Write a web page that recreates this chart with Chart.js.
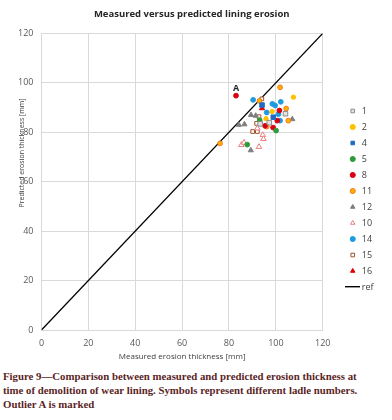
<!DOCTYPE html>
<html>
<head>
<meta charset="utf-8">
<script src="https://cdn.jsdelivr.net/npm/chart.js@4"></script>
<style>
  body { margin: 0; background: #fff; }
  #wrap { width: 392px; height: 362px; position: relative; }
  #caption {
    margin: 7px 0 0 3px;
    font-family: "Liberation Serif", serif;
    font-weight: bold;
    font-size: 10.8px;
    line-height: 14px;
    color: #5b1f1f;
    white-space: nowrap;
  }
</style>
</head>
<body>
<div id="wrap"><canvas id="diagram"></canvas></div>
<div id="caption">Figure 9—Comparison between measured and predicted erosion thickness at<br>time of demolition of wear lining. Symbols represent different ladle numbers.<br>Outlier A is marked</div>
<script>
// ladle data, [measured, predicted] in mm
const ladle1 = [[104.1, 87.5], [97.2, 83.9], [93.3, 83.4]];
const ladle2 = [[107.5, 94.2], [98.4, 88.4], [95.8, 85.5]];
const ladle4 = [[94.1, 91.0], [98.9, 86.1]];
const ladle5 = [[93.1, 84.9], [100.1, 80.7], [87.8, 75.0]];
const ladle8 = [[83.0, 94.8], [101.5, 88.8], [100.6, 84.7], [95.4, 82.6], [98.8, 81.9]];
const ladle11 = [[76.2, 75.5], [101.8, 98.2], [93.0, 92.7], [104.4, 89.6], [105.3, 84.7], [96.1, 82.3]];
const ladle12 = [[89.4, 87.0], [91.4, 86.7], [84.2, 83.0], [86.6, 83.2], [107.0, 85.3], [89.3, 72.7]];
const ladle10 = [[92.1, 81.6], [94.4, 78.9], [94.7, 77.3], [85.3, 74.9], [86.4, 75.8], [92.8, 74.1]];
const ladle14 = [[90.3, 93.1], [102.1, 92.3], [99.7, 90.8], [98.5, 91.5], [96.1, 88.0], [101.1, 87.3], [101.8, 84.7]];
const ladle15 = [[94.0, 93.5], [92.8, 86.3], [91.8, 83.6], [90.1, 80.3], [92.1, 80.3]];
const ladle16 = [[94.1, 89.7]];
const refLine = [[0, 0], [120, 120]];

const axisTicks = [0, 20, 40, 60, 80, 100, 120];

const pts = (arr) => arr.map((p) => ({ x: p[0], y: p[1] }));

function serie(label, data, style, radius, fill, border) {
  return {
    label: label,
    data: pts(data),
    pointStyle: style,
    pointRadius: radius,
    pointHoverRadius: radius,
    backgroundColor: fill,
    borderColor: border,
    borderWidth: 1,
  };
}

// short line picture for the "ref" legend entry
const refIcon = document.createElement("canvas");
refIcon.width = 15;
refIcon.height = 2;
const ric = refIcon.getContext("2d");
ric.fillStyle = "#000000";
ric.fillRect(0, 0, 15, 1.4);

const datasets = [
  serie("1", ladle1, "rect", 3.2, "#e4e4e4", "#8a8a8a"),
  serie("2", ladle2, "circle", 2.2, "#ffc000", "#ffc000"),
  serie("4", ladle4, "rect", 3.2, "#1f6bc4", "#1f6bc4"),
  serie("5", ladle5, "circle", 2.4, "#2f9a3a", "#2f9a3a"),
  serie("8", ladle8, "circle", 2.4, "#d90012", "#d90012"),
  serie("11", ladle11, "circle", 2.4, "#ffb000", "#f07a1a"),
  serie("12", ladle12, "triangle", 3.0, "#7f7f7f", "#7f7f7f"),
  serie("10", ladle10, "triangle", 3.2, "#ffffff", "#ec7f82"),
  serie("14", ladle14, "circle", 2.4, "#1e9ae0", "#1e9ae0"),
  serie("15", ladle15, "rect", 2.6, "#ffffff", "#a0522d"),
  serie("16", ladle16, "triangle", 3.0, "#e00000", "#e00000"),
  {
    type: "line",
    label: "ref",
    data: pts(refLine),
    borderColor: "#000000",
    backgroundColor: "#000000",
    borderWidth: 1.3,
    pointRadius: 0,
    pointStyle: refIcon,
    fill: false,
  },
];

// y title sits a bit above the middle, so it is drawn here
const yTitle = {
  id: "yTitle",
  afterDraw(chart) {
    const ctx = chart.ctx;
    ctx.save();
    ctx.translate(22, 153);
    ctx.rotate(-Math.PI / 2);
    ctx.font = "7px 'Open Sans'";
    ctx.fillStyle = "#404040";
    ctx.textAlign = "center";
    ctx.textBaseline = "middle";
    ctx.fillText("Predicted erosion thickness [mm]", 0, 0);
    ctx.restore();
  },
};

// outlier label A next to the first ladle 8 point
const outlier = {
  id: "outlier",
  afterDatasetsDraw(chart) {
    const sx = chart.scales.x;
    const sy = chart.scales.y;
    const px = sx.getPixelForValue(ladle8[0][0]);
    const py = sy.getPixelForValue(ladle8[0][1]);
    const ctx = chart.ctx;
    ctx.save();
    ctx.font = "bold 9px 'Open Sans'";
    ctx.fillStyle = "#262626";
    ctx.textAlign = "center";
    ctx.textBaseline = "middle";
    ctx.fillText("A", px, py - 7);
    ctx.restore();
  },
};

Chart.defaults.font.family = "'Open Sans'";

const config = {
  type: "scatter",
  data: { datasets: datasets },
  options: {
    responsive: true,
    maintainAspectRatio: false,
    animation: false,
    layout: { padding: { left: 0, right: 8.5, top: 0, bottom: 0 } },
    plugins: {
      title: {
        display: true,
        text: "Measured versus predicted lining erosion",
        color: "#262626",
        font: { size: 9.5, weight: "bold" },
        padding: { top: 9, bottom: 13 },
      },
      legend: {
        position: "right",
        // empty title only pushes the items down a little
        title: { display: true, text: "", font: { size: 10 }, padding: { top: 12, bottom: 12 } },
        labels: {
          usePointStyle: true,
          boxHeight: 3.6,
          padding: 7,
          color: "#404040",
          font: { size: 9 },
        },
      },
      tooltip: { enabled: false },
    },
    scales: {
      x: {
        type: "linear",
        min: 0,
        max: 120,
        afterBuildTicks: (s) => { s.ticks = axisTicks.map((v) => ({ value: v })); },
        afterFit: (s) => { s.height = 32; },
        grid: { color: "#d9d9d9", drawTicks: false },
        border: { color: "#d9d9d9" },
        ticks: { color: "#595959", font: { size: 9 }, padding: 8 },
        title: {
          display: true,
          text: "Measured erosion thickness [mm]",
          color: "#404040",
          font: { size: 8 },
          padding: { top: 0, bottom: 0 },
        },
      },
      y: {
        type: "linear",
        min: 0,
        max: 120,
        afterBuildTicks: (s) => { s.ticks = axisTicks.map((v) => ({ value: v })); },
        afterFit: (s) => { s.width = 41.5; },
        grid: { color: "#d9d9d9", drawTicks: false },
        border: { color: "#d9d9d9" },
        ticks: { color: "#595959", font: { size: 9 }, padding: 8 },
      },
      gap: {
        type: "linear",
        position: "right",
        display: true,
        grid: { display: false, drawTicks: false },
        border: { display: false },
        ticks: { display: false },
        afterFit: (s) => { s.width = 18.5; },
      },
    },
  },
  plugins: [yTitle, outlier],
};

const canvas = document.getElementById("diagram");
const chart = new Chart(canvas, config);
</script>
</body>
</html>
